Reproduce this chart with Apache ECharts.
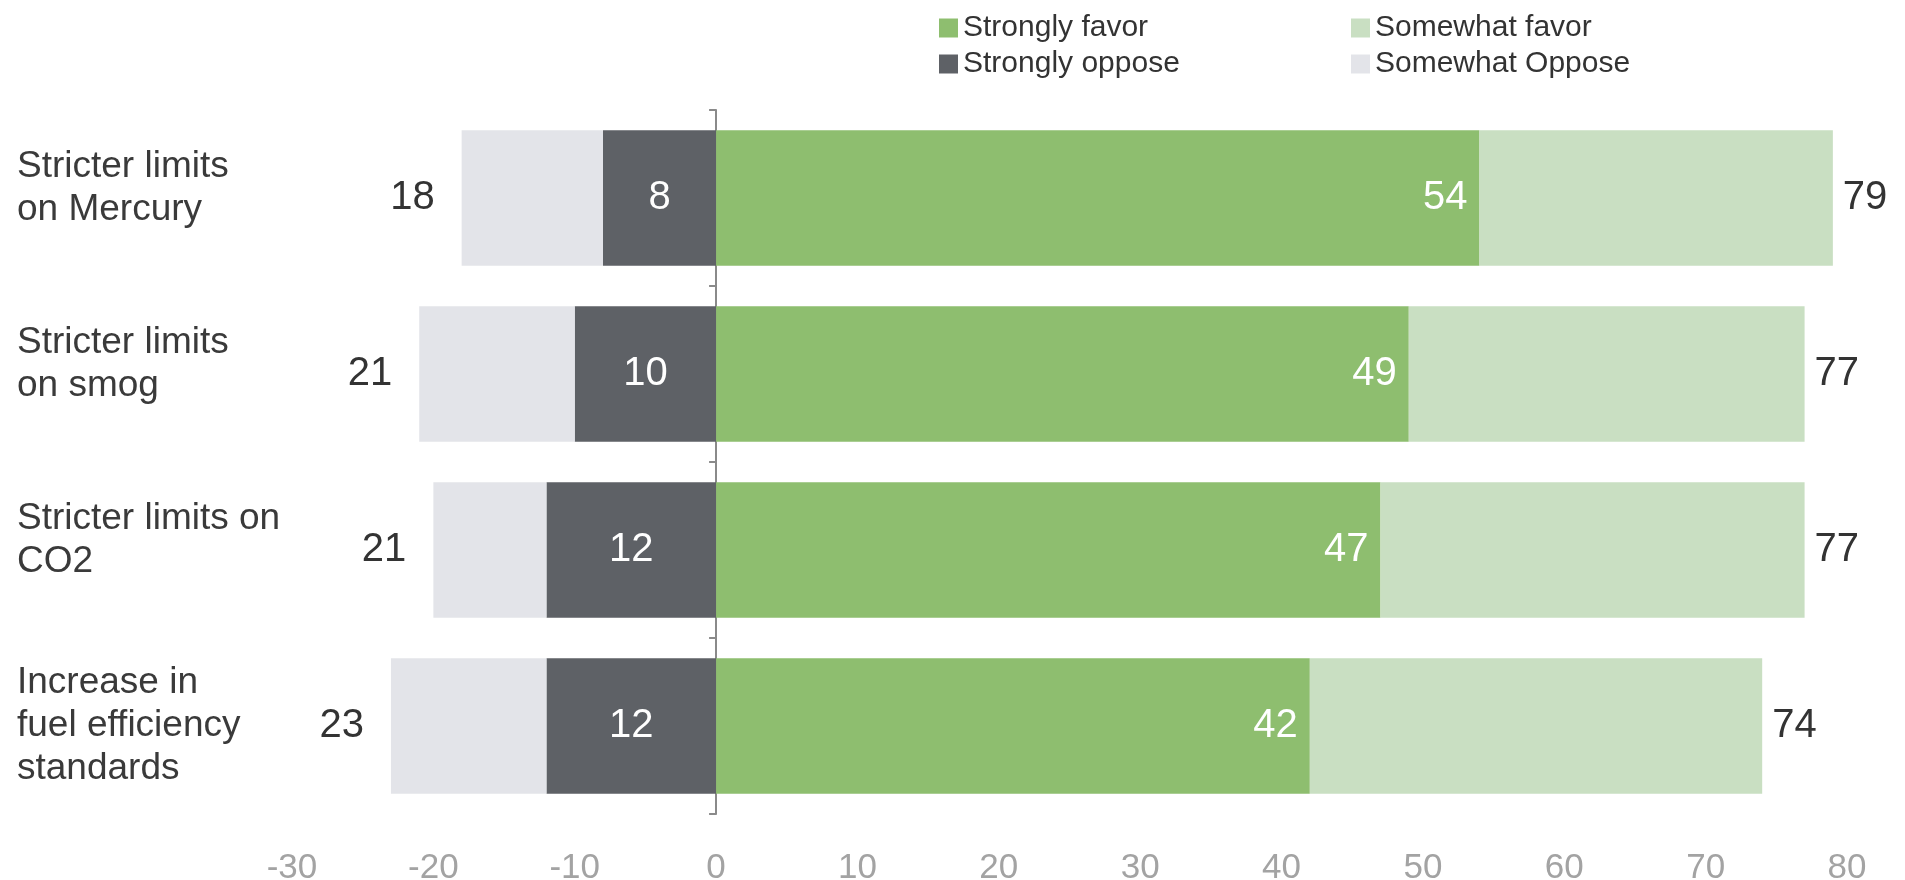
<!DOCTYPE html>
<html>
<head>
<meta charset="utf-8">
<script src="https://cdn.jsdelivr.net/npm/echarts@6/dist/echarts.min.js"></script>
<style>html,body{margin:0;padding:0;background:#fff;}#chart{width:1905px;height:880px;}</style>
</head>
<body>
<div id="chart"></div>
<script>
var categories = ['Stricter limits\non Mercury', 'Stricter limits\non smog', 'Stricter limits on\nCO2', 'Increase in\nfuel efficiency\nstandards'];
var stronglyFavor = [54, 49, 47, 42];
var somewhatFavor = [25, 28, 30, 32];
var stronglyOppose = [8, 10, 12, 12];
var somewhatOppose = [10, 11, 8, 11];
var favorTotal = [79, 77, 77, 74];
var opposeTotal = [18, 21, 21, 23];
var xTicks = [-30, -20, -10, 0, 10, 20, 30, 40, 50, 60, 70, 80];

var FONT = "'Liberation Sans', Arial, sans-serif";
var NARROW = "'Liberation Sans Narrow', 'Arial Narrow', 'Liberation Sans', sans-serif";
var C_SF = '#8ebe6f', C_WF = '#c9dfc2', C_SO = '#5e6166', C_WO = '#e3e4e9';

var chart = echarts.init(document.getElementById('chart'), null, {renderer: 'canvas'});
var legendText = {fontFamily: FONT, fontSize: 30, color: '#333333'};
var option = {
  animation: false,
  backgroundColor: '#fff',
  grid: {left: 292, right: 58, top: 110, bottom: 66, containLabel: false, outerBoundsMode: 'none'},
  legend: [
    {orient: 'vertical', left: 934, top: 8, itemWidth: 19, itemHeight: 19, itemGap: 6, icon: 'rect',
     textStyle: legendText, data: ['Strongly favor', 'Strongly oppose']},
    {orient: 'vertical', left: 1346, top: 8, itemWidth: 19, itemHeight: 19, itemGap: 6, icon: 'rect',
     textStyle: legendText, data: ['Somewhat favor', 'Somewhat Oppose']}
  ],
  xAxis: {
    type: 'value', min: xTicks[0], max: xTicks[xTicks.length - 1], interval: 10,
    axisLine: {show: false}, axisTick: {show: false}, splitLine: {show: false},
    axisLabel: {color: '#a3a3a3', fontSize: 35, fontFamily: NARROW, margin: 37}
  },
  yAxis: [
    {type: 'category', data: categories, inverse: true, position: 'left',
     axisLine: {show: false, onZero: false}, axisTick: {show: false},
     axisLabel: {align: 'left', margin: 275, fontSize: 37, lineHeight: 43, color: '#3a3a3a', fontFamily: FONT,
       formatter: function (v) { return v.split('\n').length === 2 ? v + '\n{e| }' : v; },
       rich: {e: {fontSize: 2, lineHeight: 20}}}},
    {type: 'category', data: categories, inverse: true, position: 'left',
     axisLine: {show: true, onZero: true, lineStyle: {color: '#8a8a8a', width: 2}},
     axisTick: {show: true, length: 7, lineStyle: {color: '#8a8a8a', width: 2}},
     axisLabel: {show: false}}
  ],
  series: [
    {name: 'Strongly oppose', type: 'bar', stack: 'all', yAxisIndex: 0, barCategoryGap: '23%',
     itemStyle: {color: C_SO},
     data: stronglyOppose.map(function (v) { return -v; }),
     label: {show: true, position: 'inside', color: '#ffffff', fontSize: 40, fontFamily: FONT,
       formatter: function (p) { return stronglyOppose[p.dataIndex]; }}},
    {name: 'Somewhat Oppose', type: 'bar', stack: 'all', yAxisIndex: 0,
     itemStyle: {color: C_WO},
     data: somewhatOppose.map(function (v) { return -v; }),
     label: {show: true, position: 'left', distance: 27, color: '#333333', fontSize: 40, fontFamily: FONT,
       formatter: function (p) { return opposeTotal[p.dataIndex]; }}},
    {name: 'Strongly favor', type: 'bar', stack: 'all', yAxisIndex: 0,
     itemStyle: {color: C_SF},
     data: stronglyFavor,
     label: {show: true, position: 'insideRight', distance: 12, color: '#ffffff', fontSize: 40, fontFamily: FONT,
       formatter: function (p) { return stronglyFavor[p.dataIndex]; }}},
    {name: 'Somewhat favor', type: 'bar', stack: 'all', yAxisIndex: 0,
     itemStyle: {color: C_WF},
     data: somewhatFavor,
     label: {show: true, position: 'right', distance: 10, color: '#333333', fontSize: 40, fontFamily: FONT,
       formatter: function (p) { return favorTotal[p.dataIndex]; }}}
  ]
};
chart.setOption(option);
</script>
</body>
</html>
